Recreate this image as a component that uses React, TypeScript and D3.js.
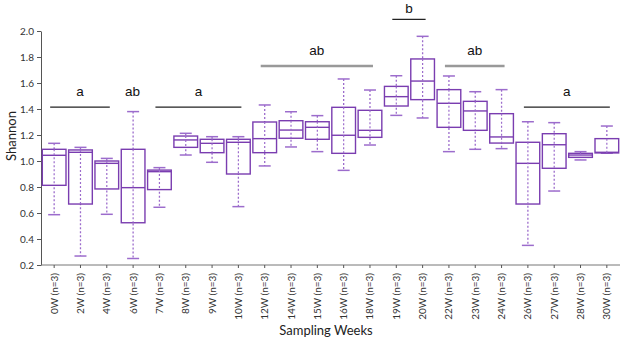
import React, { useRef, useEffect } from 'react';
import * as d3 from 'd3';

// sampling weeks
const weeks = ['0W', '2W', '4W', '6W', '7W', '8W', '9W', '10W', '12W', '14W', '15W', '16W', '18W', '19W', '20W', '22W', '23W', '24W', '26W', '27W', '28W', '30W'];
// box stats
const whiskerHigh = [1.136, 1.105, 1.02, 1.38, 0.949, 1.213, 1.187, 1.187, 1.431, 1.379, 1.349, 1.631, 1.546, 1.656, 1.959, 1.654, 1.533, 1.549, 1.302, 1.295, 1.072, 1.269];
const q3 = [1.09, 1.085, 1.0, 1.09, 0.93, 1.192, 1.167, 1.167, 1.3, 1.31, 1.302, 1.413, 1.39, 1.574, 1.785, 1.549, 1.459, 1.364, 1.144, 1.21, 1.059, 1.172];
const median = [1.044, 1.067, 0.982, 0.795, 0.918, 1.162, 1.136, 1.144, 1.172, 1.238, 1.259, 1.198, 1.236, 1.495, 1.615, 1.444, 1.385, 1.185, 0.982, 1.125, 1.046, 1.067];
const q1 = [0.813, 0.669, 0.785, 0.525, 0.78, 1.105, 1.064, 0.9, 1.064, 1.175, 1.167, 1.059, 1.182, 1.423, 1.472, 1.259, 1.236, 1.138, 0.669, 0.944, 1.028, 1.062];
const whiskerLow = [0.587, 0.269, 0.59, 0.25, 0.644, 1.046, 0.99, 0.649, 0.962, 1.108, 1.072, 0.928, 1.123, 1.351, 1.331, 1.072, 1.09, 1.095, 0.351, 0.769, 1.008, 1.06];

const yTicks = [0.2, 0.4, 0.6, 0.8, 1.0, 1.2, 1.4, 1.6, 1.8, 2.0];

// significance groups
const sigLabels = ['a', 'ab', 'a', 'ab', 'b', 'ab', 'a'];
const sigFrom = ['0W', '6W', '7W', '12W', '19W', '22W', '26W'];
const sigTo = ['4W', '6W', '10W', '18W', '20W', '24W', '30W'];
const sigLevel = [1.415, 1.415, 1.415, 1.73, 2.09, 1.73, 1.415];
const sigLine = ['black', 'none', 'black', 'grey', 'black', 'grey', 'black'];

const W = 623;
const H = 340;

const App = () => {
  const ref = useRef<SVGSVGElement>(null);

  useEffect(() => {
    const svg = d3.select(ref.current);
    svg.selectAll('*').remove();

    const left = 41, right = 620, top = 31, bottom = 265;

    const x = d3.scaleBand().domain(weeks).range([left, right]).paddingInner(0.1).paddingOuter(0.05);
    const y = d3.scaleLinear().domain([0.2, 2.0]).range([bottom, top]);
    const bw = x.bandwidth();
    const cx = (w: string) => (x(w) as number) + bw / 2;

    // axes
    const yAxis = svg.append('g')
      .attr('transform', `translate(${left},0)`)
      .call(d3.axisLeft(y).tickValues(yTicks).tickFormat(d3.format('.1f')).tickSize(4).tickSizeOuter(0));
    yAxis.select('.domain').attr('stroke', '#555');
    yAxis.selectAll('.tick line').attr('stroke', '#555');
    yAxis.selectAll('.tick text')
      .attr('font-family', 'Lato, sans-serif')
      .attr('font-size', 10)
      .attr('fill', '#333')
      .attr('x', -7);

    const xAxis = svg.append('g')
      .attr('transform', `translate(0,${bottom})`)
      .call(d3.axisBottom(x).tickSize(3).tickSizeOuter(0));
    xAxis.select('.domain').attr('stroke', '#777').attr('d', `M${left},0H${right}`);
    xAxis.selectAll('.tick line').attr('stroke', '#555');
    xAxis.selectAll('.tick text')
      .text((d: any) => `${d} (n=3)`)
      .attr('font-family', 'Lato, sans-serif')
      .attr('font-size', 10)
      .attr('fill', '#333')
      .attr('transform', 'rotate(-90)')
      .attr('text-anchor', 'end')
      .attr('x', -8)
      .attr('y', 0)
      .attr('dy', '0.35em');

    // axis titles
    svg.append('text')
      .attr('x', 326).attr('y', 335)
      .attr('text-anchor', 'middle')
      .attr('font-family', 'Lato, sans-serif')
      .attr('font-size', 13)
      .attr('fill', '#222')
      .text('Sampling Weeks');
    svg.append('text')
      .attr('transform', 'translate(16,136) rotate(-90)')
      .attr('text-anchor', 'middle')
      .attr('font-family', 'Lato, sans-serif')
      .attr('font-size', 13)
      .attr('fill', '#222')
      .text('Shannon');

    // boxes
    const purple = '#7a3db0';
    const light = '#9c6ccc';
    const g = svg.append('g');
    weeks.forEach((w, i) => {
      const c = cx(w);
      // whisker
      g.append('line')
        .attr('x1', c).attr('x2', c)
        .attr('y1', y(whiskerHigh[i])).attr('y2', y(whiskerLow[i]))
        .attr('stroke', light).attr('stroke-width', 1.3)
        .attr('stroke-dasharray', '2,2');
      [whiskerHigh[i], whiskerLow[i]].forEach(v => {
        g.append('line')
          .attr('x1', c - 6).attr('x2', c + 6)
          .attr('y1', y(v)).attr('y2', y(v))
          .attr('stroke', light).attr('stroke-width', 1.5);
      });
      g.append('rect')
        .attr('x', (x(w) as number))
        .attr('y', y(q3[i]))
        .attr('width', bw)
        .attr('height', y(q1[i]) - y(q3[i]))
        .attr('fill', 'white')
        .attr('stroke', purple).attr('stroke-width', 1.4);
      g.append('line')
        .attr('x1', x(w) as number).attr('x2', (x(w) as number) + bw)
        .attr('y1', y(median[i])).attr('y2', y(median[i]))
        .attr('stroke', purple).attr('stroke-width', 1.4);
    });
    // dotted whisker continues through the box
    weeks.forEach((w, i) => {
      const c = cx(w);
      g.append('line')
        .attr('x1', c).attr('x2', c)
        .attr('y1', y(q3[i])).attr('y2', y(q1[i]))
        .attr('stroke', light).attr('stroke-width', 1.2)
        .attr('stroke-dasharray', '2,2');
    });

    // significance letters
    sigLabels.forEach((lab, i) => {
      const x1 = cx(sigFrom[i]) - 4;
      const x2 = cx(sigTo[i]) + 3;
      const ly = y(sigLevel[i]);
      if (sigLine[i] !== 'none') {
        svg.append('line')
          .attr('x1', x1).attr('x2', x2)
          .attr('y1', ly).attr('y2', ly)
          .attr('stroke', sigLine[i] === 'grey' ? '#999' : '#222')
          .attr('stroke-width', sigLine[i] === 'grey' ? 2.5 : 1.2);
      }
      svg.append('text')
        .attr('x', (x1 + x2) / 2)
        .attr('y', Math.max(ly - 11, 13))
        .attr('text-anchor', 'middle')
        .attr('font-family', 'Liberation Sans, Arial, sans-serif')
        .attr('font-size', 13.5)
        .attr('fill', '#111')
        .text(lab);
    });
  }, []);

  return (
    <svg ref={ref} width={W} height={H} style={{ position: 'absolute', left: 0, top: 0, background: 'white' }}></svg>
  );
};

export default App;
